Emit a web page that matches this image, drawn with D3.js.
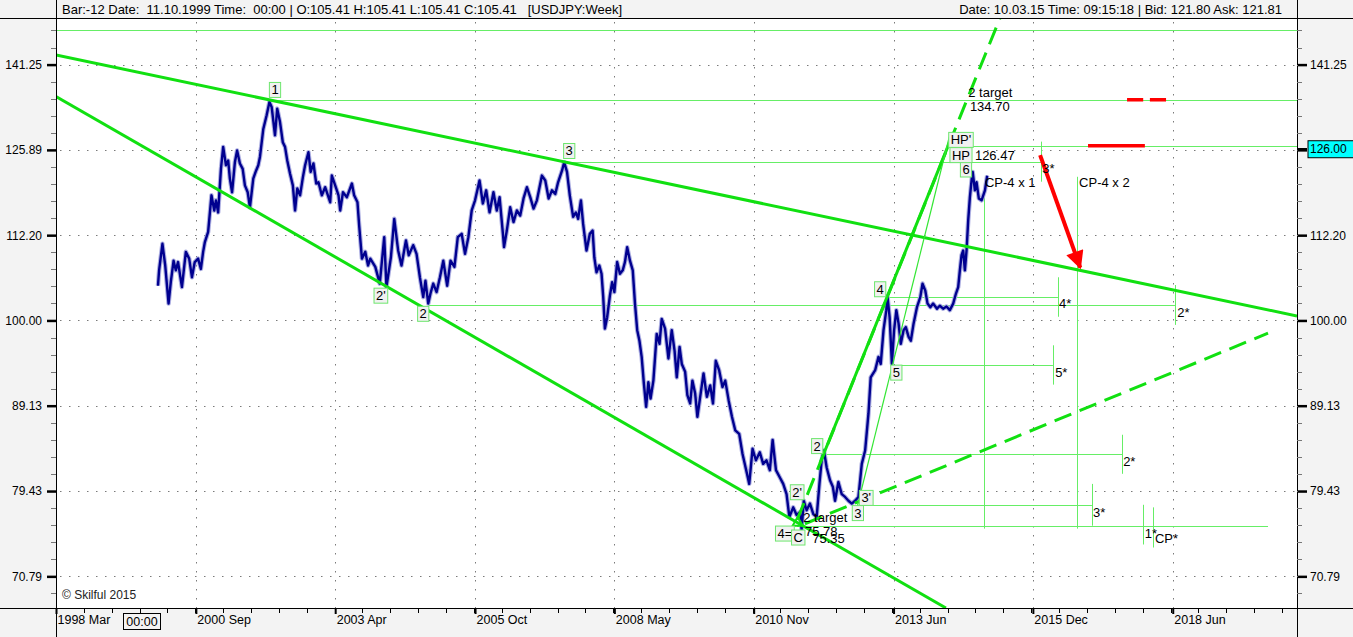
<!DOCTYPE html>
<html><head><meta charset="utf-8">
<script src="https://cdn.jsdelivr.net/npm/d3@7"></script>
<style>
body{margin:0;background:#fff;}
svg{display:block;font-family:"Liberation Sans",Arial,sans-serif;}
</style></head><body>
<svg id="c" width="1353" height="637"></svg>
<script>
// ---------- DATA ----------
const seriesT = [
2000.00,2000.02,2000.08,2000.13,2000.19,2000.23,2000.28,2000.32,2000.36,2000.43,2000.50,2000.56,2000.61,2000.66,2000.72,2000.77,2000.81,2000.84,2000.90,2000.96,
2001.01,2001.04,2001.08,2001.13,2001.17,2001.22,2001.26,2001.29,2001.33,2001.38,2001.42,2001.47,2001.52,2001.56,2001.61,2001.65,2001.71,2001.76,2001.80,2001.83,
2001.89,2001.95,2002.00,2002.04,2002.10,2002.14,2002.19,2002.24,2002.28,2002.32,2002.37,2002.42,2002.46,2002.50,2002.55,2002.60,2002.64,2002.70,2002.74,2002.79,
2002.84,2002.88,2002.94,2003.00,2003.09,2003.12,2003.18,2003.24,2003.27,2003.32,2003.39,2003.48,2003.52,2003.58,2003.61,2003.66,2003.72,2003.77,
2003.81,2003.90,2003.98,2004.06,2004.10,2004.18,2004.24,2004.31,2004.37,2004.45,2004.50,2004.58,2004.64,2004.70,2004.76,2004.80,2004.85,2004.89,2004.94,2005.00,
2005.06,2005.12,2005.19,2005.25,2005.32,2005.38,2005.45,2005.51,2005.57,2005.63,2005.69,2005.77,2005.83,2005.89,2005.95,2006.02,2006.08,2006.13,2006.19,2006.21,
2006.26,2006.32,2006.38,2006.44,2006.50,2006.56,2006.62,2006.68,2006.74,2006.80,2006.89,2006.95,2007.01,2007.07,2007.13,2007.18,2007.25,2007.29,2007.34,2007.39,
2007.45,2007.50,2007.54,2007.59,2007.63,2007.69,2007.75,
2007.80,2007.83,2007.87,2007.92,2007.96,2007.99,2008.02,2008.06,2008.11,2008.15,2008.19,2008.24,2008.29,2008.34,2008.38,2008.42,2008.47,2008.52,2008.56,2008.60,
2008.64,2008.68,2008.72,2008.76,2008.80,2008.84,2008.89,2008.95,2009.00,2009.04,2009.10,2009.16,2009.22,2009.27,2009.31,2009.36,2009.40,2009.46,2009.50,2009.55,
2009.59,2009.64,2009.68,2009.73,2009.79,2009.85,2009.91,2009.96,2010.01,2010.07,2010.13,2010.18,2010.24,2010.30,2010.36,2010.43,2010.49,2010.57,2010.61,2010.67,
2010.73,2010.80,2010.86,2010.92,2010.98,2011.03,2011.09,2011.16,2011.22,2011.28,2011.33,2011.40,2011.46,2011.52,
2011.55,2011.59,2011.64,2011.70,2011.76,2011.82,2011.87,2011.91,2011.95,2012.00,2012.06,2012.11,2012.15,2012.21,2012.27,2012.33,2012.39,2012.45,2012.51,2012.57,
2012.63,2012.69,2012.75,2012.79,2012.87,2012.93,2012.97,2013.02,2013.07,2013.09,2013.13,2013.17,2013.21,2013.25,2013.29,2013.33,2013.38,2013.42,2013.47,2013.51,
2013.56,2013.62,2013.68,2013.72,2013.77,2013.81,2013.86,2013.91,2013.98,2014.03,2014.09,2014.15,2014.21,2014.27,2014.32,2014.36,2014.39,2014.42,2014.45,2014.48,
2014.51,2014.54,2014.57,2014.60,2014.62,2014.66,2014.69,2014.73,2014.78,2014.84,2014.88
];
const seriesV = [
104.8,107.0,110.9,107.7,102.3,105.3,108.4,107.0,108.2,104.6,109.7,108.7,106.0,108.2,108.7,107.2,109.7,111.1,112.7,118.4,
116.0,117.6,115.7,122.7,126.4,123.3,124.1,121.1,118.9,123.8,125.8,123.6,122.7,120.0,118.9,116.5,121.1,122.4,123.3,124.7,
129.5,131.9,134.3,133.4,128.4,133.1,130.7,127.2,126.4,124.1,121.9,120.0,116.0,119.5,118.4,121.3,123.3,125.5,122.2,123.6,
120.3,120.5,118.4,119.7,117.3,121.6,120.0,118.4,116.0,118.9,118.1,120.3,118.4,117.3,113.7,108.7,109.7,107.7,
108.7,107.5,105.1,111.9,104.6,108.9,114.7,109.9,107.7,111.4,109.2,110.7,109.4,106.0,103.2,105.5,102.3,103.7,105.1,103.9,
106.0,108.4,104.8,108.4,107.5,111.9,112.4,109.4,111.9,116.0,117.6,120.8,117.1,119.2,115.7,118.9,116.0,118.1,112.4,110.4,
112.9,116.5,114.2,116.0,115.2,117.9,119.7,118.1,116.3,117.6,121.6,120.8,117.9,119.2,118.6,120.5,122.4,123.8,122.2,118.4,
115.0,115.7,114.7,117.6,113.9,109.9,112.4,
112.9,108.9,106.7,107.7,106.5,103.2,98.9,100.4,103.4,105.3,103.9,108.2,106.5,107.0,108.2,110.4,108.4,107.0,102.3,98.7,
97.3,95.2,91.8,89.0,92.0,90.0,92.2,98.2,96.9,100.2,98.9,95.0,98.7,96.0,92.6,96.5,94.3,93.3,90.4,89.4,
92.2,90.6,87.8,90.2,93.1,90.2,91.6,89.4,94.7,93.5,91.4,92.2,89.8,87.8,86.2,85.8,83.5,81.3,80.2,84.1,
82.8,83.7,82.4,82.8,81.7,85.1,81.7,80.9,80.2,79.1,76.7,77.7,76.9,77.2,
75.4,78.4,77.4,78.1,77.0,76.7,80.2,82.8,83.9,82.0,80.6,79.9,78.4,80.4,79.1,78.8,78.4,78.1,78.4,78.8,
82.4,83.9,88.2,92.6,93.5,95.2,94.3,98.7,101.4,103.4,100.4,94.3,98.7,101.4,99.6,96.9,98.7,99.1,97.8,97.3,
99.6,101.8,103.2,105.1,104.1,102.3,101.8,102.3,101.6,102.0,101.6,101.9,101.4,102.3,103.7,104.6,107.0,109.2,109.9,107.0,
109.9,114.5,118.1,120.8,122.2,119.2,120.5,117.9,117.6,119.2,121.6
];

const yTickValues = [70.79, 79.43, 89.13, 100.00, 112.20, 125.89, 141.25];
const yTickLabels = ["70.79","79.43","89.13","100.00","112.20","125.89","141.25"];
const xTickValues = [1998.17, 2000.68, 2003.18, 2005.69, 2008.19, 2010.69, 2013.20, 2015.70, 2018.21];
const xTickLabels = ["1998 Mar","2000 Sep","2003 Apr","2005 Oct","2008 May","2010 Nov","2013 Jun","2015 Dec","2018 Jun"];

const headerLeft = "Bar:-12 Date:  11.10.1999 Time:  00:00 | O:105.41 H:105.41 L:105.41 C:105.41   [USDJPY:Week]";
const headerRight = "Date: 10.03.15 Time: 09:15:18 | Bid: 121.80 Ask: 121.81";
const currentPrice = 126.00;

// trend lines: [t1, v1, t2, v2, kind]
const trendLines = [
  [1998.17, 143.1, 2020.44, 100.6, "thick"],
  [1998.17, 135.3, 2014.14, 67.83, "thick"],
  [2011.47, 76.4, 2015.11, 150.4, "dash"],
  [2011.88, 82.5, 2014.21, 127.3, "thick"],
  [2011.61, 76.0, 2019.92, 98.3, "dash"],
  [2012.55, 77.8, 2014.20, 128.1, "thin"]
];
// horizontal levels: [value, t1, t2]
const levels = [
  [148.0, 1998.17, 2020.44],
  [134.7, 2002.01, 2020.44],
  [126.47, 2014.41, 2020.44],
  [123.9, 2007.29, 2015.85],
  [103.2, 2013.08, 2016.15],
  [102.1, 2004.85, 2018.25],
  [94.1, 2013.16, 2016.06],
  [83.5, 2011.92, 2017.30],
  [78.0, 2012.60, 2016.76],
  [75.78, 2011.47, 2019.92]
];
// vertical projection marks: [t, v1, v2]
const projTicks = [
  [2015.85, 127.3, 120.6],
  [2016.15, 106.0, 100.5],
  [2016.06, 96.7, 91.7],
  [2017.30, 85.7, 81.3],
  [2016.76, 80.2, 75.8],
  [2018.25, 104.9, 99.4],
  [2017.68, 77.97, 73.9],
  [2017.86, 77.7, 73.6],
  [2014.82, 119.6, 75.5],
  [2016.49, 121.4, 75.5]
];
// boxed wave labels: [text, t, v]
const boxLabels = [
  ["1", 2002.10, 136.5], ["3", 2007.38, 125.7], ["2'", 2004.00, 103.4], ["2", 2004.76, 100.9],
  ["4", 2012.96, 104.3], ["5", 2013.25, 93.2], ["6", 2014.50, 122.6],
  ["HP'", 2014.41, 127.6], ["HP", 2014.41, 125.0],
  ["2", 2011.83, 84.4], ["2'", 2011.47, 79.3], ["3'", 2012.71, 78.7], ["3", 2012.56, 77.1],
  ["4=", 2011.25, 75.0], ["C", 2011.49, 74.6]
];
// plain text labels: [text, t, v]
const textLabels = [
  ["2 target", 2014.54, 136.0], ["134.70", 2014.57, 133.4], ["126.47", 2014.66, 125.0],
  ["CP-4 x 1", 2014.84, 120.4], ["CP-4 x 2", 2016.53, 120.4], ["3*", 2015.87, 122.7],
  ["4*", 2016.17, 102.3], ["5*", 2016.10, 93.2], ["2*", 2018.29, 101.1], ["2*", 2017.32, 82.7],
  ["3*", 2016.78, 77.2], ["1*", 2017.71, 75.0], ["CP*", 2017.89, 74.5],
  ["2 target", 2011.58, 76.6], ["75.78", 2011.61, 75.2], ["75.35", 2011.74, 74.5]
];
// red marks: [t1, t2, v]
const redMarks = [[2017.39, 2017.68, 134.7], [2017.80, 2018.09, 134.7], [2016.69, 2017.71, 126.6]];
const redArrow = [2015.83, 125.0, 2016.55, 107.4];
const apexMarker = [2011.48, 76.1];

// ---------- LAYOUT ----------
const W = 1353, H = 637, L = 56, R = 1297, T = 18, B = 608;
const svg = d3.select("#c");
const x = d3.scaleLinear().domain([1998.17, 2020.44]).range([L, R]);
const y = d3.scaleLog().domain([67.83, 150.42]).range([B, T]);

const gray = "#f3f3f3";
svg.append("rect").attr("width", W).attr("height", H).attr("fill", gray);
svg.append("rect").attr("x", L).attr("y", T).attr("width", R - L).attr("height", B - T).attr("fill", "#fff");

const defs = svg.append("defs");
defs.append("clipPath").attr("id", "plot").append("rect").attr("x", L).attr("y", T).attr("width", R - L).attr("height", B - T);
const blur = defs.append("filter").attr("id", "blur").attr("x", "-20%").attr("y", "-100%").attr("width", "140%").attr("height", "300%");
blur.append("feGaussianBlur").attr("stdDeviation", 1.5);
defs.append("marker").attr("id", "arrow").attr("viewBox", "0 0 10 10").attr("refX", 9).attr("refY", 5)
  .attr("markerWidth", 5).attr("markerHeight", 4.5).attr("markerUnits", "strokeWidth").attr("orient", "auto")
  .append("path").attr("d", "M0,0 L10,5 L0,10 z").attr("fill", "#ff0000");

// grid
const grid = svg.append("g").attr("stroke", "#7a7a7a").attr("stroke-width", 1).attr("stroke-dasharray", "1.5,7.5");
grid.selectAll("line.h").data(yTickValues).join("line")
  .attr("x1", L + 4).attr("x2", R).attr("y1", d => Math.round(y(d)) + 0.5).attr("y2", d => Math.round(y(d)) + 0.5);
grid.selectAll("line.v").data(xTickValues.slice(1)).join("line")
  .attr("y1", T + 4).attr("y2", B).attr("x1", d => Math.round(x(d)) + 0.5).attr("x2", d => Math.round(x(d)) + 0.5);

const plot = svg.append("g").attr("clip-path", "url(#plot)");
const thinGreen = "#66ee66", thickGreen = "#11e011";

// horizontal levels
plot.selectAll("line.lev").data(levels).join("line")
  .attr("x1", d => x(d[1])).attr("x2", d => x(d[2]))
  .attr("y1", d => Math.round(y(d[0])) + 0.5).attr("y2", d => Math.round(y(d[0])) + 0.5)
  .attr("stroke", thinGreen).attr("stroke-width", 1);
// vertical projections
plot.selectAll("line.proj").data(projTicks).join("line")
  .attr("x1", d => Math.round(x(d[0])) + 0.5).attr("x2", d => Math.round(x(d[0])) + 0.5)
  .attr("y1", d => y(d[1])).attr("y2", d => y(d[2]))
  .attr("stroke", thinGreen).attr("stroke-width", 1);

// red marks with shadow
plot.selectAll("line.rs").data(redMarks).join("line")
  .attr("x1", d => x(d[0])).attr("x2", d => x(d[1]))
  .attr("y1", d => y(d[2]) + 6).attr("y2", d => y(d[2]) + 6)
  .attr("stroke", "#9a9a9a").attr("stroke-width", 4).attr("filter", "url(#blur)").attr("opacity", 0.8);
plot.selectAll("line.rm").data(redMarks).join("line")
  .attr("x1", d => x(d[0])).attr("x2", d => x(d[1]))
  .attr("y1", d => y(d[2])).attr("y2", d => y(d[2]))
  .attr("stroke", "#ff0000").attr("stroke-width", 3.5);

// price series
const pts = seriesT.map((t, i) => [t, seriesV[i]]);
const line = d3.line().x(d => x(d[0])).y(d => y(d[1]));
plot.append("path").datum(pts).attr("d", line).attr("fill", "none")
  .attr("stroke", "#aeb0e2").attr("stroke-width", 4.5).attr("stroke-linejoin", "round");
plot.append("path").datum(pts).attr("d", line).attr("fill", "none")
  .attr("stroke", "#00008f").attr("stroke-width", 2.4).attr("stroke-linejoin", "round");

// trend lines
plot.selectAll("line.tr").data(trendLines).join("line")
  .attr("x1", d => x(d[0])).attr("y1", d => y(d[1])).attr("x2", d => x(d[2])).attr("y2", d => y(d[3]))
  .attr("stroke", d => d[4] === "thin" ? "#33e633" : thickGreen)
  .attr("stroke-width", d => d[4] === "thin" ? 1.2 : 3)
  .attr("stroke-dasharray", d => d[4] === "dash" ? "18,9" : null);

// red arrow
plot.append("line").attr("x1", x(redArrow[0])).attr("y1", y(redArrow[1]))
  .attr("x2", x(redArrow[2])).attr("y2", y(redArrow[3]))
  .attr("stroke", "#ff0000").attr("stroke-width", 4).attr("marker-end", "url(#arrow)");

// apex marker
const ax = x(apexMarker[0]), ay = y(apexMarker[1]);
plot.append("path").attr("d", d3.symbol(d3.symbolTriangle, 45)()).attr("transform", `translate(${ax},${ay})`)
  .attr("fill", "none").attr("stroke", thickGreen).attr("stroke-width", 2);

// boxed labels
const bl = plot.selectAll("g.bl").data(boxLabels).join("g")
  .attr("transform", d => `translate(${x(d[1])},${y(d[2])})`);
bl.append("rect").attr("fill", "#f1f1f1").attr("stroke", "#6ee66e").attr("stroke-width", 1);
bl.append("text").text(d => d[0]).attr("text-anchor", "middle").attr("dominant-baseline", "central")
  .attr("font-size", 13).attr("fill", "#000");
bl.each(function () {
  const g = d3.select(this);
  const w = g.select("text").node().getComputedTextLength() + 4;
  g.select("rect").attr("x", -w / 2).attr("y", -7.5).attr("width", w).attr("height", 15);
});

// plain text labels
plot.selectAll("text.tl").data(textLabels).join("text")
  .attr("x", d => x(d[1])).attr("y", d => y(d[2])).text(d => d[0])
  .attr("dominant-baseline", "central").attr("font-size", 13).attr("fill", "#000");

plot.append("text").attr("x", L + 6).attr("y", B - 13).attr("dominant-baseline", "central")
  .attr("font-size", 12).attr("fill", "#222").text("\u00a9 Skilful 2015");

// ---------- AXES / FRAME ----------
const frame = svg.append("g").attr("stroke", "#000").attr("stroke-width", 1);
frame.append("line").attr("x1", 0).attr("x2", W).attr("y1", T + 0.5).attr("y2", T + 0.5);
frame.append("line").attr("x1", 0).attr("x2", W).attr("y1", B + 0.5).attr("y2", B + 0.5);
frame.append("line").attr("x1", L + 0.5).attr("x2", L + 0.5).attr("y1", 0).attr("y2", H);
frame.append("line").attr("x1", R + 0.5).attr("x2", R + 0.5).attr("y1", 0).attr("y2", H);

// header
svg.append("text").attr("x", L + 6).attr("y", 9).attr("dominant-baseline", "central")
  .attr("font-size", 13).attr("fill", "#000").attr("xml:space", "preserve").style("white-space", "pre").text(headerLeft);
svg.append("text").attr("x", R - 15).attr("y", 9).attr("dominant-baseline", "central").attr("text-anchor", "end")
  .attr("font-size", 13).attr("fill", "#000").text(headerRight);

// y minor ticks
const minorY = d3.range(-17, 18).map(k => Math.pow(10, 2 + 0.01 * k)).filter(v => y(v) > T + 2 && y(v) < B - 2);
svg.append("g").selectAll("line").data(minorY).join("line")
  .attr("x1", L - 5).attr("x2", L).attr("y1", d => Math.round(y(d)) + 0.5).attr("y2", d => Math.round(y(d)) + 0.5)
  .attr("stroke", "#777");
svg.append("g").selectAll("line").data(minorY).join("line")
  .attr("x1", R).attr("x2", R + 5).attr("y1", d => Math.round(y(d)) + 0.5).attr("y2", d => Math.round(y(d)) + 0.5)
  .attr("stroke", "#777");

// y axes with d3 axis
const yAxisL = d3.axisLeft(y).tickValues(yTickValues).tickFormat((d, i) => yTickLabels[i]).tickSize(9).tickPadding(5);
const gL = svg.append("g").attr("transform", `translate(${L},0)`).call(yAxisL);
const yAxisR = d3.axisRight(y).tickValues(yTickValues).tickFormat((d, i) => yTickLabels[i]).tickSize(9).tickPadding(3);
const gR = svg.append("g").attr("transform", `translate(${R + 1},0)`).call(yAxisR);
[gL, gR].forEach(g => {
  g.select(".domain").remove();
  g.selectAll(".tick line").attr("stroke", "#000").attr("stroke-width", 2.5);
  g.selectAll(".tick text").attr("font-size", 12).attr("fill", "#000").attr("font-family", "Liberation Sans, Arial, sans-serif");
});

// current price box
const cy = y(currentPrice);
svg.append("line").attr("x1", R).attr("x2", R + 10).attr("y1", cy).attr("y2", cy).attr("stroke", "#000").attr("stroke-width", 2.5);
svg.append("rect").attr("x", R + 11).attr("y", cy - 8.5).attr("width", 46).attr("height", 17)
  .attr("fill", "#00ffff").attr("stroke", "#000");
svg.append("text").attr("x", R + 13).attr("y", cy).attr("dominant-baseline", "central")
  .attr("font-size", 12).attr("fill", "#000").text(currentPrice.toFixed(2));

// x axis
const minorX = d3.range(0, 45).map(k => 1998.17 + 0.5 * k).filter(t => x(t) <= R);
svg.append("g").selectAll("line").data(minorX).join("line")
  .attr("x1", d => Math.round(x(d)) + 0.5).attr("x2", d => Math.round(x(d)) + 0.5)
  .attr("y1", B).attr("y2", B + 5).attr("stroke", "#000");
const xAxis = d3.axisBottom(x).tickValues(xTickValues).tickFormat((d, i) => xTickLabels[i]).tickSize(6);
const gX = svg.append("g").attr("transform", `translate(0,${B})`).call(xAxis);
gX.select(".domain").remove();
gX.selectAll(".tick line").attr("stroke", "#000").attr("stroke-width", 2);
gX.selectAll(".tick text").attr("font-size", 12.5).attr("fill", "#000").attr("text-anchor", "start")
  .attr("dx", 1).attr("dy", "0.55em").attr("font-family", "Liberation Sans, Arial, sans-serif");

svg.append("rect").attr("x", 123.5).attr("y", 613.5).attr("width", 37).attr("height", 16).attr("fill", "none").attr("stroke", "#000");
svg.append("text").attr("x", 142).attr("y", 622).attr("text-anchor", "middle").attr("dominant-baseline", "central")
  .attr("font-size", 12.5).attr("fill", "#000").text("00:00");
</script>
</body></html>
